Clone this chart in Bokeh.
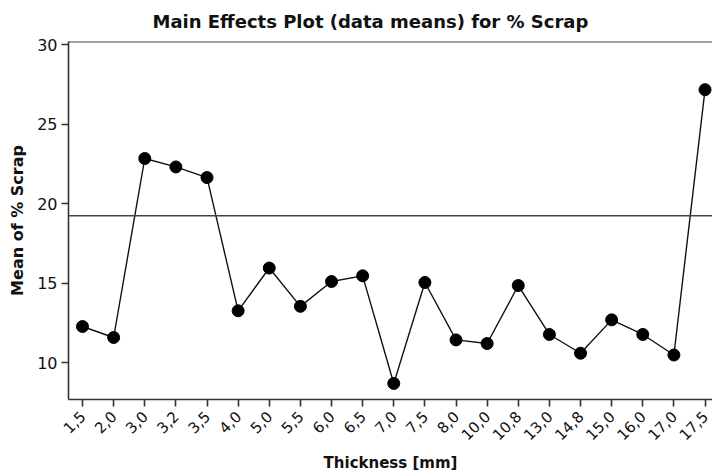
import math
from bokeh.plotting import figure
from bokeh.models import Range1d, FixedTicker, Span, ColumnDataSource
from bokeh.embed import file_html
from bokeh.resources import INLINE

thickness = ["1,5", "2,0", "3,0", "3,2", "3,5", "4,0", "5,0", "5,5", "6,0", "6,5", "7,0",
             "7,5", "8,0", "10,0", "10,8", "13,0", "14,8", "15,0", "16,0", "17,0", "17,5"]
mean_scrap = [12.27, 11.58, 22.84, 22.31, 21.64, 13.26, 15.95, 13.54, 15.10, 15.46, 8.69,
              15.04, 11.43, 11.20, 14.85, 11.77, 10.59, 12.69, 11.77, 10.48, 27.17]
overall_mean = 19.24
y_ticks = [10, 15, 20, 25, 30]

Y_MIN, Y_MAX = 7.68, 30.2
idx = list(range(len(thickness)))
src = ColumnDataSource(dict(x=idx, y=mean_scrap))

FONT = "DejaVu Sans"
p = figure(width=712, height=474, output_backend="svg", toolbar_location=None,
           x_range=Range1d(-0.45, len(thickness) - 1 + 0.24),
           y_range=Range1d(Y_MIN, Y_MAX),
           min_border_left=68, min_border_right=0, min_border_top=41, min_border_bottom=74)
p.background_fill_color = "white"
p.border_fill_color = "white"
p.outline_line_color = None
p.grid.visible = False

p.title.text = "Main Effects Plot (data means) for % Scrap"
p.title.text_font = FONT
p.title.text_font_size = "18px"
p.title.text_font_style = "bold"
p.title.text_color = "#111111"
p.title.align = "left"
p.title.vertical_align = "top"
p.title.offset = 84
p.title.standoff = 16

p.line("x", "y", source=src, line_color="#111111", line_width=1.4)
p.scatter("x", "y", source=src, size=12, fill_color="black", line_color="black")

p.add_layout(Span(location=overall_mean, dimension="width", line_color="#444444", line_width=1.6))
p.add_layout(Span(location=Y_MAX, dimension="width", line_color="#444444", line_width=2))

xa = p.xaxis[0]
xa.ticker = FixedTicker(ticks=idx)
xa.major_label_overrides = {i: t for i, t in zip(idx, thickness)}
xa.major_label_orientation = math.pi / 4
xa.axis_label = "Thickness [mm]"
ya = p.yaxis[0]
ya.ticker = FixedTicker(ticks=y_ticks)
ya.axis_label = "Mean of % Scrap"

for ax in (xa, ya):
    ax.axis_line_color = "#333333"
    ax.axis_line_width = 1.6
    ax.major_tick_line_color = "#333333"
    ax.major_tick_line_width = 1.6
    ax.major_tick_out = 7
    ax.major_tick_in = 0
    ax.minor_tick_out = 0
    ax.minor_tick_in = 0
    ax.major_label_text_font = FONT
    ax.major_label_text_color = "#111111"
    ax.axis_label_text_font = FONT
    ax.axis_label_text_font_style = "bold"
    ax.axis_label_text_color = "#111111"

ya.major_label_text_font_size = "16px"
ya.major_label_standoff = 4
ya.axis_label_text_font_size = "16px"
ya.axis_label_standoff = 7
xa.major_label_text_font_size = "15px"
xa.major_label_standoff = 7
xa.axis_label_text_font_size = "15px"
xa.axis_label_standoff = 5

open("out.html", "w").write(file_html(p, INLINE))
